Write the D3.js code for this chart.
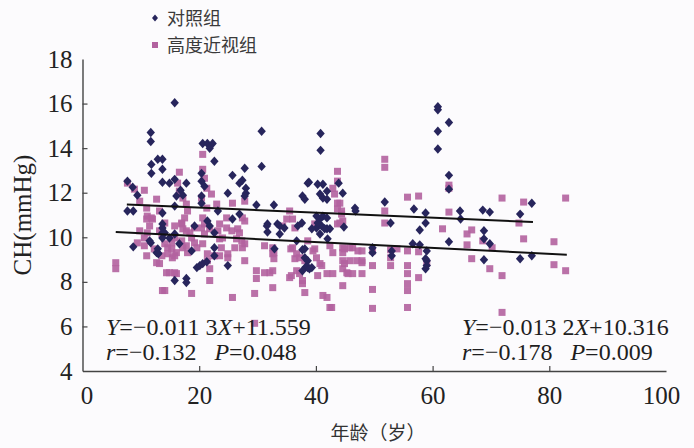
<!DOCTYPE html>
<html>
<head>
<meta charset="utf-8">
<script src="https://cdn.jsdelivr.net/npm/d3@7"></script>
<style>
  body { margin: 0; background: #fcfbfd; }
  svg { display: block; }
</style>
</head>
<body>
<svg id="chart" width="694" height="448"></svg>
<script>
// [age, CH] pairs
const controlPoints = [
  [15.8,16.04],[11.7,14.70],[11.7,14.30],[20.6,14.21],[21.4,14.21],[22.3,14.21],[21.8,13.99],[22.6,13.41],
  [12.9,13.50],[13.7,13.50],[11.8,13.27],[13.7,13.05],[11.8,12.87],[15.8,12.60],[7.7,12.52],[13.7,12.47],
  [14.9,12.43],[17.8,12.43],[16.8,12.11],[17.2,11.89],[16.1,11.85],[9.4,11.89],[20.4,12.87],[20.4,12.52],
  [20.9,12.29],[20.4,11.85],[20.4,11.53],[7.7,11.18],[8.7,11.18],[13.7,11.09],[15.8,11.40],[8.6,12.25],
  [8.7,9.57],[11.7,9.75],[12.7,9.31],[13.0,9.26],[13.7,10.42],[13.7,10.20],[13.7,9.97],[15.8,10.15],
  [15.8,8.06],[17.8,8.15],[17.8,7.97],[16.6,9.71],[18.7,9.39],[19.6,8.64],[20.1,8.73],[20.6,8.82],
  [21.4,10.73],[21.8,10.51],[22.6,10.20],[22.6,9.53],[22.6,9.17],[23.2,11.18],[24.9,11.98],[24.9,8.73],
  [25.7,12.78],[26.9,12.43],[27.4,12.56],[28.0,12.20],[28.0,11.98],[27.8,11.85],[27.8,13.10],[25.7,10.82],
  [26.9,11.04],[29.8,11.45],[30.7,14.76],[30.7,13.18],[32.8,11.45],[31.7,10.60],[31.7,10.24],[33.8,10.51],
  [33.8,10.15],[36.9,10.51],[36.7,9.84],[37.7,9.44],[38.1,9.08],[38.6,8.95],[38.3,8.68],[39.3,8.64],
  [38.6,12.43],[37.7,11.85],[38.1,11.71],[40.8,14.66],[40.8,13.90],[40.3,12.38],[41.2,12.38],[41.9,12.07],
  [40.7,11.94],[41.2,11.76],[41.9,11.71],[40.1,10.95],[40.7,10.82],[41.2,10.95],[41.9,10.87],[41.0,10.51],
  [40.1,10.42],[41.9,10.38],[42.4,10.38],[40.7,10.15],[43.9,12.43],[44.6,11.98],[44.8,10.46],[46.7,11.31],
  [38.8,12.47],[33.4,10.60],[46.8,11.18],[51.8,11.58],[52.8,10.64],[56.8,11.27],[58.8,11.09],[58.8,10.64],
  [60.9,15.86],[60.9,15.72],[62.8,15.15],[60.9,14.76],[60.9,13.96],[62.8,12.78],[62.8,12.16],[64.7,11.18],
  [64.8,10.82],[68.6,11.22],[69.8,11.13],[75.0,11.04],[77.0,11.53],[62.8,9.80],[68.8,10.29],[68.8,9.93],
  [69.8,9.71],[68.8,8.99],[75.0,9.04],[77.0,9.17],[57.8,10.33],[59.0,9.39],[59.0,8.95],[59.0,8.73],
  [56.6,9.71],[57.8,9.66],[53.0,9.39],[53.0,9.17],[49.7,9.53],[49.7,9.31],[58.8,9.04],[58.8,8.59],
  [13.7,10.60],[14.1,10.20],[14.9,9.97],[11.5,9.84],[12.9,9.48],[12.9,9.31],[21.3,8.90],[19.2,10.51],
  [31.6,10.51],[34.6,10.42],[37.6,10.64],[39.3,10.38],[40.3,10.64],[41.5,10.38],[42.0,9.93],[32.9,9.48],
  [38.1,9.48],[38.6,8.64],[37.7,8.50],[38.9,8.59]
];

const myopiaPoints = [
  [5.7,8.86],[5.7,8.59],[7.7,12.43],[8.9,12.16],[10.6,12.11],[9.8,11.62],[11.0,11.31],[11.1,10.95],
  [11.8,10.87],[9.8,10.29],[9.4,9.75],[11.0,9.17],[10.6,9.97],[12.7,11.71],[13.2,11.18],[13.2,10.29],
  [13.6,10.15],[14.1,9.71],[14.6,9.53],[14.6,9.26],[15.4,9.08],[15.8,9.17],[13.2,8.82],[14.4,8.41],
  [15.8,8.41],[16.1,8.37],[13.7,7.61],[16.6,12.92],[16.3,12.43],[16.6,12.07],[17.2,11.76],[17.8,11.49],
  [18.0,11.18],[17.5,10.87],[17.0,10.60],[17.8,10.29],[18.7,9.97],[19.2,9.75],[19.6,9.53],[18.7,7.48],
  [20.6,13.72],[20.6,13.05],[20.9,12.65],[21.3,12.20],[20.4,11.76],[21.3,11.31],[20.6,10.87],[20.4,10.42],
  [20.9,10.15],[20.6,9.71],[21.4,9.26],[21.8,8.06],[22.1,11.94],[23.0,11.49],[23.5,10.60],[24.7,10.42],
  [24.0,9.97],[23.8,9.53],[23.5,9.17],[24.9,9.26],[26.1,9.53],[26.4,9.93],[26.9,10.20],[27.3,9.84],
  [27.4,9.53],[24.7,10.87],[25.7,11.53],[27.8,11.62],[27.4,10.87],[25.7,7.30],[29.5,7.48],[29.8,8.50],
  [29.8,8.15],[32.6,8.50],[32.6,7.74],[32.6,9.53],[32.6,9.26],[31.2,9.62],[35.0,10.82],[35.5,11.18],
  [36.0,10.82],[36.4,10.42],[36.0,9.53],[36.7,9.26],[37.2,9.08],[38.1,8.95],[37.2,8.37],[37.7,8.06],
  [38.1,7.52],[38.6,9.84],[39.8,9.48],[40.1,9.08],[40.7,8.82],[41.9,8.37],[42.9,8.37],[41.2,7.39],
  [43.7,12.96],[43.7,12.52],[43.2,11.94],[44.1,11.53],[44.4,11.04],[44.6,10.73],[44.9,9.48],[44.9,8.82],
  [45.3,8.41],[44.6,7.83],[46.3,9.53],[47.2,9.39],[47.0,8.95],[46.3,8.37],[23.2,10.29],[23.5,9.93],
  [24.9,9.08],[25.6,10.29],[26.6,10.38],[27.8,10.73],[27.8,9.71],[27.8,8.95],[31.2,8.41],[32.1,8.41],
  [32.8,9.31],[32.8,9.04],[34.3,10.51],[35.7,9.48],[36.4,9.04],[35.8,8.28],[36.7,8.50],[35.5,8.19],
  [37.7,7.92],[39.5,9.39],[41.0,8.73],[40.3,8.28],[41.9,7.30],[42.7,6.85],[29.5,6.14],[39.8,10.60],
  [11.1,10.20],[11.5,10.51],[10.6,9.62],[12.3,9.48],[12.7,8.86],[13.6,9.17],[14.9,8.41],[14.1,7.61],
  [21.8,8.59],[21.4,8.95],[22.6,9.17],[11.0,10.82],[12.0,10.82],[14.1,10.64],[15.8,10.51],[17.0,10.64],
  [17.2,10.38],[18.4,10.20],[19.2,10.42],[20.9,10.60],[21.8,10.38],[15.3,9.75],[15.8,9.97],[17.0,9.84],
  [17.8,9.62],[18.0,9.31],[15.3,9.48],[16.1,9.31],[17.2,9.53],
  [43.7,11.53],[43.7,11.27],[44.4,11.18],[51.8,13.50],[51.8,13.14],[51.8,11.18],[51.8,10.64],[55.7,11.80],
  [57.6,11.85],[62.8,12.34],[62.8,12.20],[62.8,11.13],[42.9,12.20],[44.1,10.64],[61.7,10.38],[65.9,10.15],
  [66.7,10.33],[65.9,9.66],[68.6,9.84],[70.2,9.53],[71.9,11.76],[75.6,11.58],[74.8,10.64],[75.6,9.93],
  [80.8,9.80],[82.8,11.76],[66.7,9.04],[69.8,8.59],[71.9,8.28],[71.9,6.63],[80.8,8.77],[82.8,8.50],
  [42.4,9.62],[44.6,9.53],[45.8,9.53],[47.9,9.39],[49.7,9.39],[42.9,9.31],[44.6,9.31],[44.6,8.95],
  [44.6,8.59],[45.5,8.37],[47.9,8.86],[47.9,8.37],[49.7,8.73],[52.8,9.44],[52.8,9.08],[52.8,8.73],
  [55.7,9.39],[55.7,8.73],[55.7,8.37],[55.7,7.92],[55.7,7.61],[57.6,9.35],[57.6,8.19],[49.7,7.66],
  [49.7,6.81],[55.7,6.85],[42.4,6.85],[53.9,9.48],[59.0,8.86],[43.7,10.60],[47.9,8.95],[45.8,8.95]
];

// regression lines: slope, intercept, age range drawn
const fits = [
  { slope: -0.0113, intercept: 11.559, from: 7.6, to: 77.2 },
  { slope: -0.0132, intercept: 10.316, from: 5.7, to: 83.0 }
];

const xTicks = [0, 20, 40, 60, 80, 100];
const yTicks = [4, 6, 8, 10, 12, 14, 16, 18];

const legendItems = [
  { label: "对照组", shape: "diamond" },
  { label: "高度近视组", shape: "square" }
];

const notes = [
  { x: 106, y: 335, parts: [["Y", true], ["=\u22120.011 3", false], ["X", true], ["+11.559", false]] },
  { x: 106, y: 360, parts: [["r", true], ["=\u22120.132   ", false], ["P", true], ["=0.048", false]] },
  { x: 462, y: 335, parts: [["Y", true], ["=\u22120.013 2", false], ["X", true], ["+10.316", false]] },
  { x: 462, y: 360, parts: [["r", true], ["=\u22120.178   ", false], ["P", true], ["=0.009", false]] }
];

const CONTROL_COLOR = "#27255c";
const MYOPIA_COLOR = "#b2629f";
const SERIF = "Liberation Serif";
const CJK = "Noto Sans CJK SC";

const svg = d3.select("#chart");

const x = d3.scaleLinear().domain([0, 100]).range([82.5, 666]);
const y = d3.scaleLinear().domain([4, 18]).range([371, 59]);

// diamond path centred on 0,0
function diamondPath(w, h) {
  const p = d3.path();
  p.moveTo(0, -h); p.lineTo(w, 0); p.lineTo(0, h); p.lineTo(-w, 0); p.closePath();
  return p.toString();
}

function styleAxis(g, hidden) {
  g.attr("font-family", SERIF).attr("font-size", 25);
  g.select(".domain").attr("stroke", "#444").attr("stroke-width", 1.4).attr("fill", "none");
  g.selectAll(".tick line").attr("stroke", "#444").attr("stroke-width", 1.2)
    .attr("display", d => hidden.includes(d) ? "none" : null);
  g.selectAll(".tick text").attr("fill", "#222");
}

// axes
const xAxis = d3.axisBottom(x).tickValues(xTicks).tickSizeInner(-5).tickSizeOuter(0).tickPadding(15);
const gx = svg.append("g").attr("transform", `translate(0,${y(4)})`).call(xAxis);
styleAxis(gx, [0, 100]);
gx.selectAll(".tick text").attr("dx", d => d === 0 ? 4 : (d === 100 ? -5 : 0));

const yAxis = d3.axisLeft(y).tickValues(yTicks).tickSizeInner(-5).tickSizeOuter(0).tickPadding(10);
const gy = svg.append("g").attr("transform", `translate(${x(0)},0)`).call(yAxis);
styleAxis(gy, [4, 18]);

// points: myopia squares first, control diamonds on top
const sq = 7;
svg.append("g").selectAll("rect").data(myopiaPoints).join("rect")
  .attr("x", d => x(d[0]) - sq / 2)
  .attr("y", d => y(d[1]) - sq / 2)
  .attr("width", sq).attr("height", sq)
  .attr("fill", MYOPIA_COLOR).attr("fill-opacity", 0.9);

const dia = diamondPath(4.2, 4.7);
svg.append("g").selectAll("path").data(controlPoints).join("path")
  .attr("d", dia)
  .attr("transform", d => `translate(${x(d[0])},${y(d[1])})`)
  .attr("fill", CONTROL_COLOR);

// regression lines
svg.append("g").selectAll("line").data(fits).join("line")
  .attr("x1", d => x(d.from)).attr("y1", d => y(d.intercept + d.slope * d.from))
  .attr("x2", d => x(d.to)).attr("y2", d => y(d.intercept + d.slope * d.to))
  .attr("stroke", "#111").attr("stroke-width", 2);

// legend
const legend = svg.append("g").attr("transform", "translate(155,18)");
legendItems.forEach((item, i) => {
  const g = legend.append("g").attr("transform", `translate(0,${i * 27})`);
  if (item.shape === "diamond") {
    g.append("path").attr("d", diamondPath(3, 3.6)).attr("fill", CONTROL_COLOR);
  } else {
    g.append("rect").attr("x", -3).attr("y", -3).attr("width", 6).attr("height", 6).attr("fill", MYOPIA_COLOR);
  }
  g.append("text").attr("x", 12).attr("y", 6.5)
    .attr("font-family", CJK).attr("font-size", 18).attr("fill", "#3a3a3a").text(item.label);
});

// equation notes
notes.forEach(n => {
  const t = svg.append("text").attr("x", n.x).attr("y", n.y)
    .attr("font-family", SERIF).attr("font-size", 24).attr("fill", "#1e1e1e")
    .style("white-space", "pre");
  n.parts.forEach(([s, it]) => {
    t.append("tspan").attr("font-style", it ? "italic" : "normal").text(s);
  });
});

// axis titles
svg.append("text")
  .attr("transform", "translate(31,215) rotate(-90)")
  .attr("text-anchor", "middle").attr("font-family", SERIF).attr("font-size", 25).attr("fill", "#222")
  .text("CH(mmHg)");

svg.append("text")
  .attr("x", 378).attr("y", 440).attr("text-anchor", "middle")
  .attr("font-family", CJK).attr("font-size", 19).attr("fill", "#333")
  .text("年龄（岁）");
</script>
</body>
</html>
